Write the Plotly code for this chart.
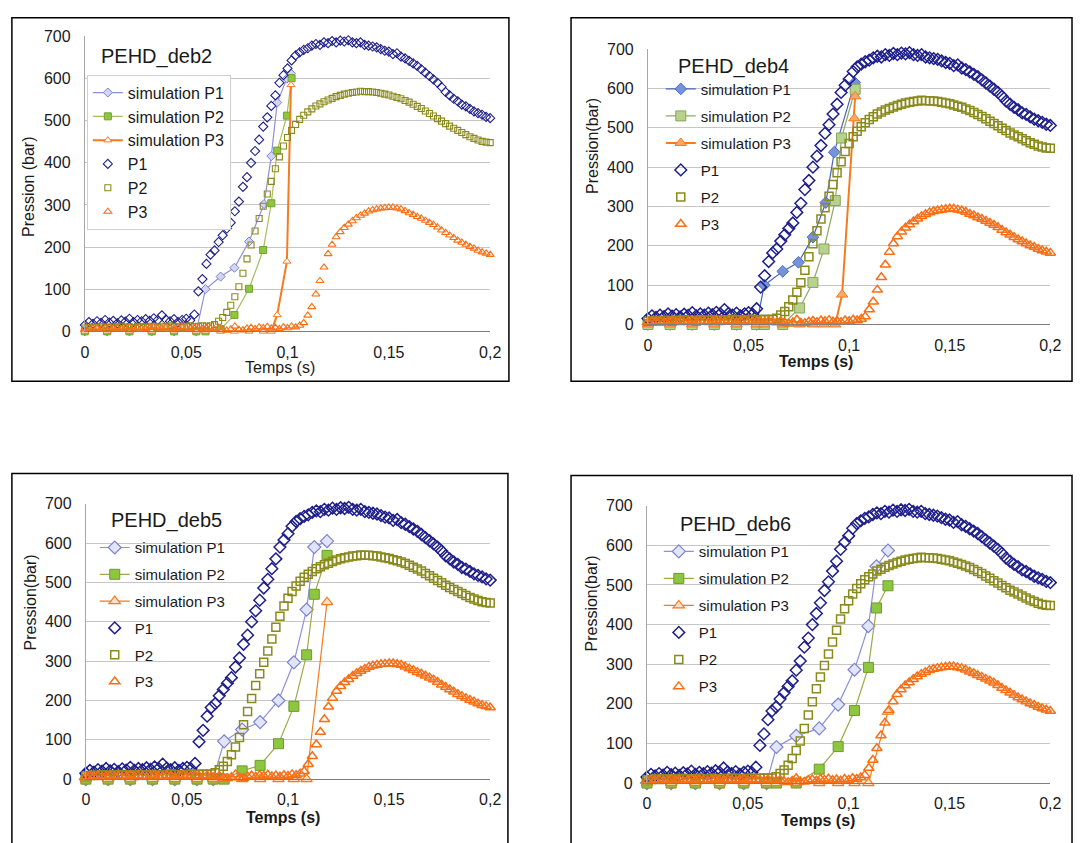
import plotly.graph_objects as go

W, H = 1084, 843

# ---------------- DATA ----------------
# measured pressures (same measurements in all four panels), time in s
T_EXP = [0.000, 0.002, 0.004, 0.006, 0.008, 0.010, 0.012, 0.014, 0.016, 0.018,
         0.020, 0.022, 0.024, 0.026, 0.028, 0.030, 0.032, 0.034, 0.036, 0.038,
         0.040, 0.042, 0.044, 0.046, 0.048, 0.050, 0.052, 0.054, 0.056, 0.058,
         0.060, 0.062, 0.064, 0.066, 0.068, 0.070, 0.072, 0.074, 0.076, 0.078,
         0.080, 0.082, 0.084, 0.086, 0.088, 0.090, 0.092, 0.094, 0.096, 0.098,
         0.100, 0.102, 0.104, 0.106, 0.108, 0.110, 0.112, 0.114, 0.116, 0.118,
         0.120, 0.122, 0.124, 0.126, 0.128, 0.130, 0.132, 0.134, 0.136, 0.138,
         0.140, 0.142, 0.144, 0.146, 0.148, 0.150, 0.152, 0.154, 0.156, 0.158,
         0.160, 0.162, 0.164, 0.166, 0.168, 0.170, 0.172, 0.174, 0.176, 0.178,
         0.180, 0.182, 0.184, 0.186, 0.188, 0.190, 0.192, 0.194, 0.196, 0.198,
         0.200]

P1_EXP = [15, 22, 18, 24, 20, 27, 21, 25, 19, 26,
          23, 30, 22, 27, 24, 29, 25, 31, 27, 38,
          28, 24, 29, 22, 27, 30, 26, 40, 95, 124,
          160, 182, 192, 212, 228, 244, 258, 285, 308, 343,
          366, 400, 428, 455, 486, 508, 535, 560, 590, 608,
          624, 643, 655, 662, 668, 672, 678, 682, 680, 686,
          684, 689, 686, 690, 688, 691, 686, 684, 686, 680,
          678, 676, 674, 670, 666, 664, 658, 660, 652, 648,
          642, 636, 630, 622, 614, 606, 598, 590, 580, 568,
          560, 552, 546, 538, 534, 528, 522, 518, 514, 509,
          506]

P2_EXP = [8, 9, 10, 9, 11, 10, 9, 11, 10, 12,
          10, 11, 9, 12, 11, 10, 12, 11, 10, 12,
          11, 13, 11, 12, 10, 12, 13, 11, 12, 13,
          12, 13, 16, 24, 33, 45, 62, 82, 106, 138,
          172, 205, 238, 268, 297, 326, 356, 386, 414, 440,
          460, 477, 491, 503, 513, 521, 528, 535, 540, 545,
          549, 553, 557, 560, 563, 565, 567, 568, 570, 569,
          569, 568, 567, 565, 563, 561, 558, 555, 552, 548,
          544, 539, 534, 529, 523, 517, 511, 505, 499, 493,
          487, 482, 477, 472, 467, 462, 458, 454, 451, 449,
          448]

P3_EXP = [6, 8, 7, 9, 6, 8, 10, 7, 9, 6,
          8, 10, 7, 9, 8, 6, 9, 11, 8, 7,
          10, 8, 6, 9, 11, 8, 7, 9, 8, 6,
          9, 7, 5, 8, 4, 2, 5, 12, 4, 3,
          7, 9, 6, 10, 8, 11, 7, 9, 6, 10,
          8, 12, 10, 14, 20, 38, 58, 88, 120, 152,
          184, 206, 224, 236, 246, 254, 262, 269, 275, 280,
          285, 288, 290, 292, 293, 294, 294, 292, 290, 286,
          281, 277, 272, 268, 263, 258, 253, 247, 240, 234,
          228, 222, 216, 211, 206, 201, 197, 192, 188, 185,
          182]

# simulations, one set per panel
# PEHD_deb2
D2_SIM1_T = [0, 0.011, 0.022, 0.033, 0.044, 0.055, 0.0595, 0.067, 0.0738, 0.081, 0.0884, 0.092, 0.0949, 0.0997, 0.1017]
D2_SIM1_P = [0, 0, 0, 0, 0, 0, 100, 130, 151, 213, 302, 416, 543, 600, 612]
D2_SIM2_T = [0, 0.011, 0.022, 0.033, 0.044, 0.055, 0.0595, 0.067, 0.0738, 0.081, 0.088, 0.092, 0.0949, 0.0997, 0.102]
D2_SIM2_P = [0, 0, 0, 0, 0, 0, 0, 5, 39, 101, 193, 304, 429, 512, 601]
D2_SIM3_T = [0, 0.011, 0.022, 0.033, 0.044, 0.055, 0.0595, 0.067, 0.0738, 0.081, 0.088, 0.092, 0.0949, 0.0997, 0.1017]
D2_SIM3_P = [0, 0, 0, 0, 0, 0, 0, 0, 0, 0, 0, 0, 39, 166, 585]
# PEHD_deb4
D4_SIM1_T = [0, 0.011, 0.022, 0.033, 0.044, 0.054, 0.0578, 0.067, 0.0748, 0.082, 0.0884, 0.0926, 0.1028]
D4_SIM1_P = [0, 0, 0, 0, 0, 0, 100, 135, 158, 222, 310, 438, 615]
D4_SIM2_T = [0, 0.011, 0.022, 0.033, 0.044, 0.054, 0.0578, 0.067, 0.0754, 0.082, 0.0875, 0.0931, 0.0962, 0.1030]
D4_SIM2_P = [0, 0, 0, 0, 0, 0, 0, 0, 42, 107, 192, 315, 474, 598]
D4_SIM3_T = [0, 0.011, 0.022, 0.033, 0.044, 0.054, 0.0578, 0.067, 0.0754, 0.082, 0.0875, 0.0931, 0.0965, 0.1026, 0.1030]
D4_SIM3_P = [0, 0, 0, 0, 0, 0, 0, 0, 0, 0, 0, 0, 76, 524, 580]
# PEHD_deb5
D5_SIM1_T = [0, 0.011, 0.022, 0.033, 0.044, 0.055, 0.063, 0.0684, 0.0773, 0.0862, 0.0953, 0.1029, 0.1092, 0.1130, 0.1193]
D5_SIM1_P = [0, 0, 0, 0, 0, 0, 0, 96, 126, 145, 200, 297, 431, 590, 605]
D5_SIM2_T = [0, 0.011, 0.022, 0.033, 0.044, 0.055, 0.063, 0.0684, 0.0773, 0.0862, 0.0953, 0.1029, 0.1092, 0.1130, 0.1193]
D5_SIM2_P = [0, 0, 0, 0, 0, 0, 0, 0, 21, 35, 90, 185, 316, 470, 569]
D5_SIM3_T = [0, 0.011, 0.022, 0.033, 0.044, 0.055, 0.063, 0.0684, 0.0773, 0.0862, 0.0953, 0.1029, 0.1092, 0.1193]
D5_SIM3_P = [0, 0, 0, 0, 0, 0, 0, 0, 0, 0, 0, 0, 0, 450]
# PEHD_deb6
D6_SIM1_T = [0, 0.012, 0.024, 0.036, 0.048, 0.0593, 0.0642, 0.074, 0.0854, 0.0948, 0.1029, 0.1098, 0.1138, 0.1195]
D6_SIM1_P = [0, 0, 0, 0, 0, 0, 91, 119, 138, 198, 286, 396, 547, 587]
D6_SIM2_T = [0, 0.012, 0.024, 0.036, 0.048, 0.0593, 0.0642, 0.074, 0.0854, 0.0948, 0.1029, 0.1098, 0.1138, 0.1195]
D6_SIM2_P = [0, 0, 0, 0, 0, 0, 0, 0, 35, 92, 183, 292, 442, 498]
D6_SIM3_T = [0, 0.012, 0.024, 0.036, 0.048, 0.0593, 0.0642, 0.074, 0.0854, 0.0948, 0.1029, 0.1098, 0.1195]
D6_SIM3_P = [0, 0, 0, 0, 0, 0, 0, 0, 0, 0, 0, 0, 180]

PANEL_TITLES = ["PEHD_deb2", "PEHD_deb4", "PEHD_deb5", "PEHD_deb6"]
SERIES_NAMES = ["simulation P1", "simulation P2", "simulation P3", "P1", "P2", "P3"]
X_TICKS = [0, 0.05, 0.1, 0.15, 0.2]
X_TICK_TEXT = ["0", "0,05", "0,1", "0,15", "0,2"]
Y_TICKS = [0, 100, 200, 300, 400, 500, 600, 700]
Y_TITLES = ["Pression (bar)", "Pression(bar)", "Pression(bar)", "Pression(bar)"]
X_TITLE = "Temps (s)"

SIMS = [
    [(D2_SIM1_T, D2_SIM1_P), (D2_SIM2_T, D2_SIM2_P), (D2_SIM3_T, D2_SIM3_P)],
    [(D4_SIM1_T, D4_SIM1_P), (D4_SIM2_T, D4_SIM2_P), (D4_SIM3_T, D4_SIM3_P)],
    [(D5_SIM1_T, D5_SIM1_P), (D5_SIM2_T, D5_SIM2_P), (D5_SIM3_T, D5_SIM3_P)],
    [(D6_SIM1_T, D6_SIM1_P), (D6_SIM2_T, D6_SIM2_P), (D6_SIM3_T, D6_SIM3_P)],
]

# ---------------- STYLE / LAYOUT ----------------
FONT = "Liberation Sans, Arial, sans-serif"
NAVY = "#1F1F8C"
OLIVE = "#8A8A1C"
ORANGE = "#FA6E14"

# pixel geometry of each panel
GEOM = [
    dict(plot=(82, 493, 29, 330), box=(8, 10, 512, 381), title=(155, 49), ytitle=(25, 183),
         xtitle=(280, 367), legend=(84, 68), lfont=16, lgap=0, small=True),
    dict(plot=(653, 1061, 42, 323), box=(575, 10, 1083, 381), title=(740, 60), ytitle=(596, 141),
         xtitle=(823, 361), legend=(666, 66), lfont=15, lgap=4.5, small=False),
    dict(plot=(83, 493, 506, 787), box=(8, 475, 511, 870), title=(165, 523), ytitle=(27, 607),
         xtitle=(283, 826), legend=(92, 534), lfont=15, lgap=4.3, small=False),
    dict(plot=(652, 1061, 508, 791), box=(575, 477, 1083, 870), title=(742, 527), ytitle=(596, 608),
         xtitle=(825, 829), legend=(664, 538), lfont=15, lgap=4.5, small=False),
]

SIM_STYLES = [
    # deb2
    [dict(line=dict(color="#8C91D9", width=1.2), marker=dict(symbol="diamond", size=7, color="#D3D6F3", line=dict(color="#7C82D0", width=1))),
     dict(line=dict(color="#A4BE5C", width=1.2), marker=dict(symbol="square", size=7, color="#8DC63F", line=dict(color="#74A02E", width=1))),
     dict(line=dict(color="#F47B20", width=2), marker=dict(symbol="triangle-up", size=7, color="#FFFFFF", line=dict(color="#F47B20", width=1)))],
    # deb4
    [dict(line=dict(color="#4462C0", width=1.2), marker=dict(symbol="diamond", size=9, color="#7594D8", line=dict(color="#4A6CC2", width=1))),
     dict(line=dict(color="#8CAA62", width=1.2), marker=dict(symbol="square", size=10, color="#B6D28E", line=dict(color="#86A456", width=1))),
     dict(line=dict(color="#F47B20", width=2), marker=dict(symbol="triangle-up", size=10, color="#F8A868", line=dict(color="#F47B20", width=1)))],
    # deb5
    [dict(line=dict(color="#8C91D9", width=1.2), marker=dict(symbol="diamond", size=10, color="#E2E4F8", line=dict(color="#7C82D0", width=1.2))),
     dict(line=dict(color="#A0A848", width=1.2), marker=dict(symbol="square", size=10, color="#8DC63F", line=dict(color="#6E9A2C", width=1))),
     dict(line=dict(color="#F47B20", width=1.2), marker=dict(symbol="triangle-up", size=10, color="#FCE2CC", line=dict(color="#F47B20", width=1.2)))],
    # deb6
    [dict(line=dict(color="#8C91D9", width=1.2), marker=dict(symbol="diamond", size=10, color="#E2E4F8", line=dict(color="#7C82D0", width=1.2))),
     dict(line=dict(color="#A0A848", width=1.2), marker=dict(symbol="square", size=10, color="#8DC63F", line=dict(color="#6E9A2C", width=1))),
     dict(line=dict(color="#F47B20", width=1.2), marker=dict(symbol="triangle-up", size=10, color="#FCE2CC", line=dict(color="#F47B20", width=1.2)))],
]


def exp_styles(small):
    s = 6 if small else 8
    lw = 1.1 if small else 1.5
    return [
        dict(symbol="diamond-open", size=s + 1, color=NAVY, line=dict(color=NAVY, width=lw)),
        dict(symbol="square-open", size=s, color=OLIVE, line=dict(color=OLIVE, width=lw)),
        dict(symbol="triangle-up-open", size=s + 1, color=ORANGE, line=dict(color=ORANGE, width=lw)),
    ]


fig = go.Figure()
layout = dict(
    width=W, height=H, margin=dict(l=0, r=0, t=0, b=0),
    paper_bgcolor="white", plot_bgcolor="white",
    font=dict(family=FONT, color="#1A1A1A", size=16),
    shapes=[], annotations=[],
)

EXPS = [P1_EXP, P2_EXP, P3_EXP]

for i, g in enumerate(GEOM):
    k = "" if i == 0 else str(i + 1)
    xa, ya = "x" + k, "y" + k
    leg = "legend" + k
    x0, x1, yt, yb = g["plot"]
    layout["xaxis" + k] = dict(
        domain=[x0 / W, x1 / W], range=[0, 0.2], anchor=ya,
        tickvals=X_TICKS, ticktext=X_TICK_TEXT, ticks="", showgrid=False, zeroline=False,
        showline=True, linecolor="#7F7F7F", linewidth=1,
        tickfont=dict(family=FONT, size=16, color="#1A1A1A"), ticklabelstandoff=6,
    )
    layout["yaxis" + k] = dict(
        domain=[1 - yb / H, 1 - yt / H], range=[0, 700], anchor=xa,
        tickvals=Y_TICKS, ticks="", showgrid=True, gridcolor="#C6C6C6", gridwidth=1,
        zeroline=False, showline=True, linecolor="#A6A6A6", linewidth=1,
        tickfont=dict(family=FONT, size=16, color="#1A1A1A"), ticklabelstandoff=10,
    )
    lx, ly = g["legend"]
    if i == 0:
        bg, bc, bw = "white", "#D0D0D0", 1
    else:
        bg, bc, bw = "rgba(0,0,0,0)", "rgba(0,0,0,0)", 0
    layout[leg] = dict(
        x=lx / W, y=1 - ly / H, xanchor="left", yanchor="top",
        bgcolor=bg, bordercolor=bc, borderwidth=bw,
        font=dict(family=FONT, size=g["lfont"], color="#1A1A1A"),
        tracegroupgap=g["lgap"], traceorder="normal" if g["lgap"] == 0 else "grouped",
    )

    # simulation series
    for j, (tt, pp) in enumerate(SIMS[i]):
        st = SIM_STYLES[i][j]
        fig.add_trace(go.Scatter(
            x=tt, y=pp, name=SERIES_NAMES[j], mode="lines+markers",
            line=st["line"], marker=st["marker"], xaxis=xa, yaxis=ya,
            legend=leg, legendgroup=f"g{i}_{j}", cliponaxis=False,
        ))
    # measured series
    for j, (pp, st) in enumerate(zip(EXPS, exp_styles(g["small"]))):
        fig.add_trace(go.Scatter(
            x=T_EXP, y=pp, name=SERIES_NAMES[3 + j], mode="markers",
            marker=st, xaxis=xa, yaxis=ya,
            legend=leg, legendgroup=f"g{i}_{3 + j}", cliponaxis=False,
        ))

    bx0, by0, bx1, by1 = g["box"]
    layout["shapes"].append(dict(
        type="rect", xref="paper", yref="paper",
        x0=bx0 / W, x1=bx1 / W, y0=1 - by0 / H, y1=1 - by1 / H,
        line=dict(color="black", width=1.5), fillcolor="rgba(0,0,0,0)", layer="below",
    ))
    tx, ty = g["title"]
    layout["annotations"].append(dict(
        text=PANEL_TITLES[i], x=tx / W, y=1 - ty / H, xref="paper", yref="paper",
        xanchor="center", yanchor="middle", showarrow=False,
        font=dict(family=FONT, size=20, color="#1A1A1A"),
    ))
    yx, yy = g["ytitle"]
    layout["annotations"].append(dict(
        text=Y_TITLES[i], x=yx / W, y=1 - yy / H, xref="paper", yref="paper",
        xanchor="center", yanchor="middle", showarrow=False, textangle=-90,
        font=dict(family=FONT, size=16, color="#1A1A1A"),
    ))
    xx, xy = g["xtitle"]
    layout["annotations"].append(dict(
        text=X_TITLE if i == 0 else "<b>" + X_TITLE + "</b>", x=xx / W, y=1 - xy / H,
        xref="paper", yref="paper", xanchor="center", yanchor="middle", showarrow=False,
        font=dict(family=FONT, size=16, color="#1A1A1A"),
    ))

fig.update_layout(**layout)
fig.write_html(
    "out.html",
    config={"displayModeBar": False},
    post_script="document.body.style.margin='0';document.body.style.overflow='hidden';",
)
